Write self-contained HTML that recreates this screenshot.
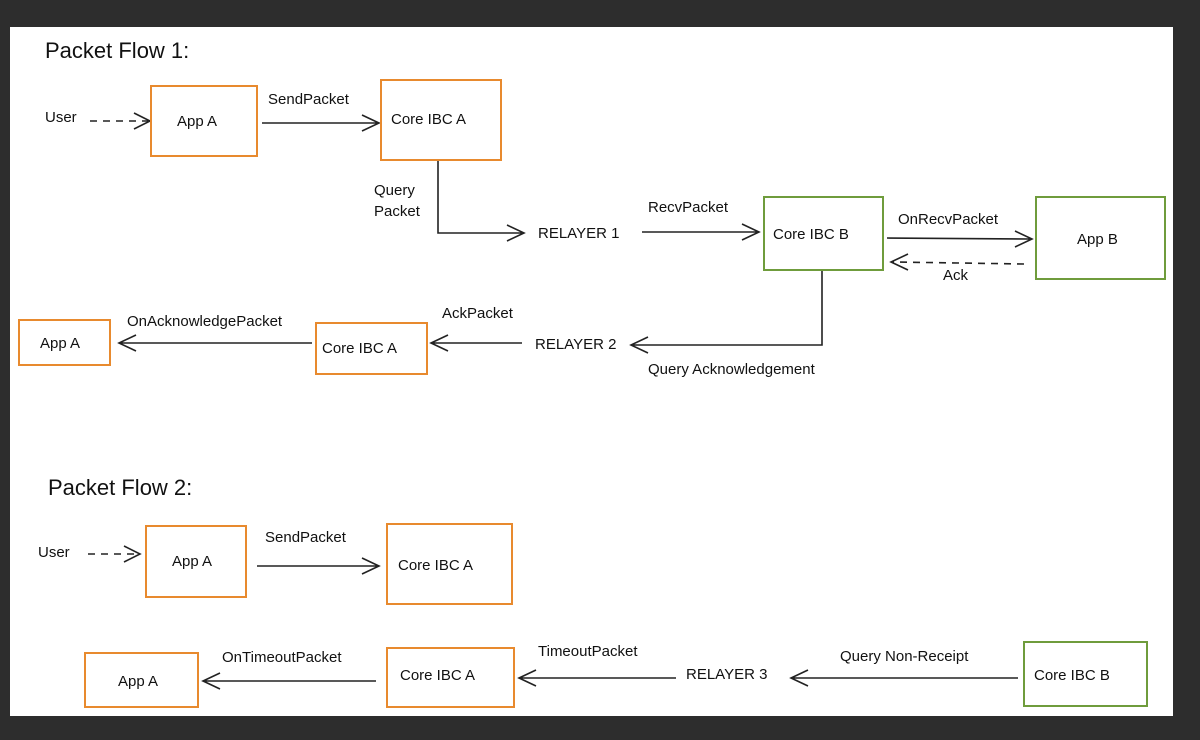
<!DOCTYPE html>
<html><head><meta charset="utf-8"><style>
html,body{margin:0;padding:0;background:#2d2d2d;}
svg{display:block}
text{font-family:"Liberation Sans",sans-serif;font-size:15px;fill:#111}
.o{fill:none;stroke:#e88a2e;stroke-width:2}
.g{fill:none;stroke:#6f9c3c;stroke-width:2}
.l{fill:none;stroke:#222;stroke-width:1.6}
.d{fill:none;stroke:#222;stroke-width:1.6;stroke-dasharray:7 6}
</style></head><body>
<svg width="1200" height="740" viewBox="0 0 1200 740" xmlns="http://www.w3.org/2000/svg">
<rect x="0" y="0" width="1200" height="740" fill="#2d2d2d"/>
<rect x="10" y="27" width="1163" height="689" fill="#fff"/>

<text x="45" y="58" style="font-size:22px">Packet Flow 1:</text>
<text x="45" y="122">User</text>
<path class="d" d="M90 121 L148 121"/><path class="l" d="M134 113 L150 121 L134 129"/>
<rect class="o" x="151" y="86" width="106" height="70"/>
<text x="177" y="126">App A</text>
<text x="268" y="104">SendPacket</text>
<path class="l" d="M262 123 L378 123 M362 115 L379 123 L362 131"/>
<rect class="o" x="381" y="80" width="120" height="80"/>
<text x="391" y="124">Core IBC A</text>
<text x="374" y="195">Query</text><text x="374" y="216">Packet</text>
<path class="l" d="M438 161 L438 233 L523 233 M507 225 L524 233 L507 241"/>
<text x="538" y="238">RELAYER 1</text>
<text x="648" y="212">RecvPacket</text>
<path class="l" d="M642 232 L758 232 M742 224 L759 232 L742 240"/>
<rect class="g" x="764" y="197" width="119" height="73"/>
<text x="773" y="239">Core IBC B</text>
<text x="898" y="224">OnRecvPacket</text>
<path class="l" d="M887 238 L1031 239 M1015 231 L1032 239 L1015 247"/>
<rect class="g" x="1036" y="197" width="129" height="82"/>
<text x="1077" y="244">App B</text>
<path class="d" d="M1024 264 L893 262"/><path class="l" d="M908 254 L891 262 L908 270"/>
<text x="943" y="280">Ack</text>
<path class="l" d="M822 271 L822 345 L632 345 M648 337 L631 345 L648 353"/>
<text x="535" y="349">RELAYER 2</text>
<text x="648" y="374">Query Acknowledgement</text>
<text x="442" y="318">AckPacket</text>
<path class="l" d="M522 343 L432 343 M448 335 L431 343 L448 351"/>
<rect class="o" x="316" y="323" width="111" height="51"/>
<text x="322" y="353">Core IBC A</text>
<path class="l" d="M312 343 L120 343 M136 335 L119 343 L136 351"/>
<text x="127" y="326">OnAcknowledgePacket</text>
<rect class="o" x="19" y="320" width="91" height="45"/>
<text x="40" y="348">App A</text>

<text x="48" y="495" style="font-size:22px">Packet Flow 2:</text>
<text x="38" y="557">User</text>
<path class="d" d="M88 554 L138 554"/><path class="l" d="M124 546 L140 554 L124 562"/>
<rect class="o" x="146" y="526" width="100" height="71"/>
<text x="172" y="566">App A</text>
<text x="265" y="542">SendPacket</text>
<path class="l" d="M257 566 L378 566 M362 558 L379 566 L362 574"/>
<rect class="o" x="387" y="524" width="125" height="80"/>
<text x="398" y="570">Core IBC A</text>

<rect class="o" x="85" y="653" width="113" height="54"/>
<text x="118" y="686">App A</text>
<text x="222" y="662">OnTimeoutPacket</text>
<path class="l" d="M376 681 L204 681 M220 673 L203 681 L220 689"/>
<rect class="o" x="387" y="648" width="127" height="59"/>
<text x="400" y="680">Core IBC A</text>
<text x="538" y="656">TimeoutPacket</text>
<path class="l" d="M676 678 L520 678 M536 670 L519 678 L536 686"/>
<text x="686" y="679">RELAYER 3</text>
<path class="l" d="M1018 678 L792 678 M808 670 L791 678 L808 686"/>
<text x="840" y="661">Query Non-Receipt</text>
<rect class="g" x="1024" y="642" width="123" height="64"/>
<text x="1034" y="680">Core IBC B</text>
</svg>
</body></html>
